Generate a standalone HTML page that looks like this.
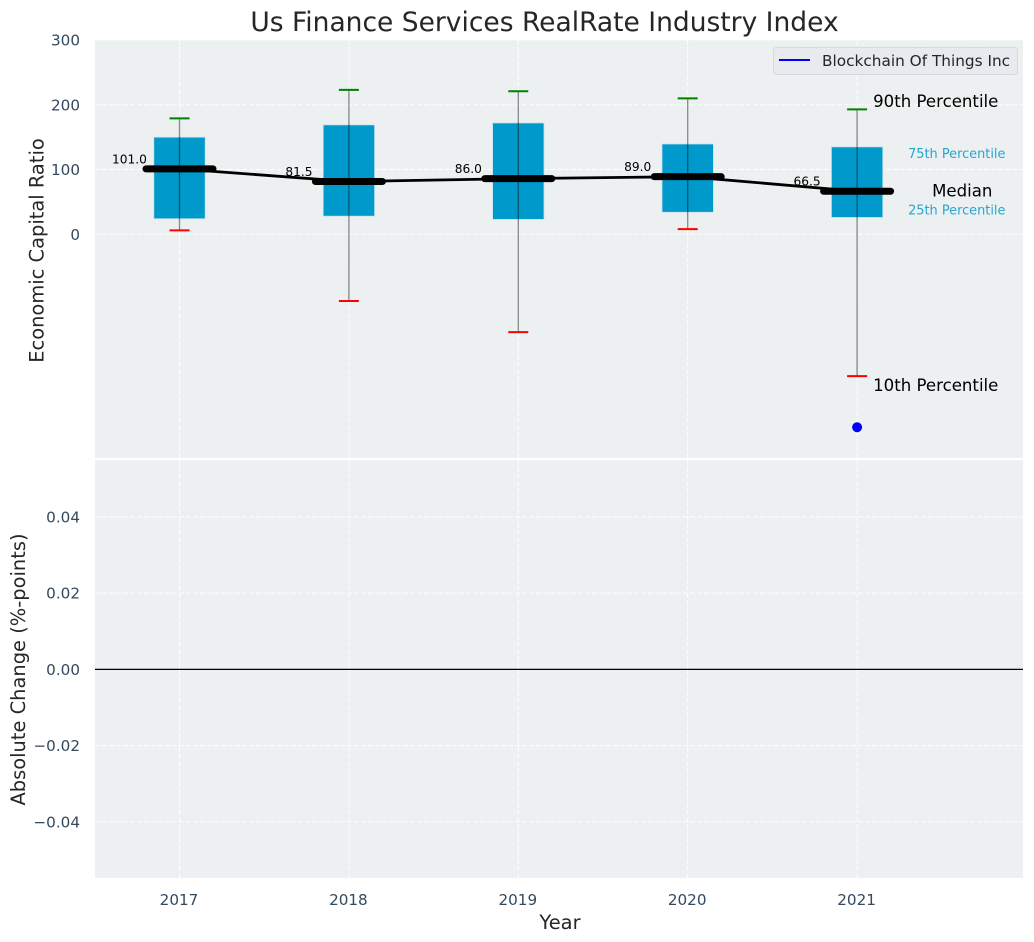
<!DOCTYPE html>
<html lang="en">
<head>
<meta charset="utf-8">
<title>Us Finance Services RealRate Industry Index</title>
<style>
html,body{margin:0;padding:0;background:#fff;}
svg{display:block;font-family:"DejaVu Sans","Liberation Sans",sans-serif;}
.tick{font-size:15.2px;fill:#34495e;}
.axl{font-size:19.45px;fill:#262626;}
.ann{font-size:16.6px;fill:#000;}
.pct{font-size:12.9px;fill:#0099cc;fill-opacity:.85;}
.val{font-size:12.2px;fill:#000;text-anchor:middle;}
</style>
</head>
<body>
<svg id="chart" width="1034" height="942" viewBox="0 0 1034 942" xmlns="http://www.w3.org/2000/svg">
  <rect x="0" y="0" width="1034" height="942" fill="#ffffff"/>
  <rect x="95" y="40" width="928" height="419" fill="#ecf0f1"/>
  <rect x="95" y="459" width="928" height="419" fill="#ecf0f1"/>
  <g id="grid"></g>
  <line x1="95" x2="1023" y1="459" y2="459" stroke="#ffffff" stroke-width="2"/>
  <g id="upper"></g>
  <g id="lower"></g>
  <g id="ticks"></g>

  <text x="544.5" y="31" text-anchor="middle" font-size="26.5px" fill="#262626">Us Finance Services RealRate Industry Index</text>
  <text class="axl" transform="translate(43.5,250.5) rotate(-90)" text-anchor="middle">Economic Capital Ratio</text>
  <text class="axl" transform="translate(25,669.5) rotate(-90)" text-anchor="middle">Absolute Change (%-points)</text>
  <text class="axl" x="560" y="929" text-anchor="middle">Year</text>

  <g>
    <rect x="773.5" y="47.5" width="244" height="27" rx="3" fill="#e8eaef" stroke="#d5d8dc" stroke-width="1"/>
    <line x1="779" x2="810" y1="60" y2="60" stroke="#0000ff" stroke-width="2"/>
    <text x="822" y="66" font-size="15.3px" fill="#262626">Blockchain Of Things Inc</text>
  </g>
  <script>
    // Chart data
    const years = [2017, 2018, 2019, 2020, 2021];
    const p90 = [179, 223, 221, 210, 193];
    const q3 = [150, 169, 172, 139.5, 135];
    const medians = [101.0, 81.5, 86.0, 89.0, 66.5];
    const q1 = [24, 28, 23, 34, 26];
    const p10 = [6, -103, -151, 8, -219];
    const companyYears = [2021];
    const companyValues = [-298];
    const upperTicks = [0, 100, 200, 300];
    const lowerTicks = [-0.04, -0.02, 0, 0.02, 0.04];
    const lowerBaseline = [0];

    // Axis functions
    const x = function (v) { return 179.5 + (v - 2017) * 169.4; };
    const yU = function (v) { return 234.3 - v * 0.6475; };
    const yL = function (v) { return 669.4 - v * 3812; };

    const NS = 'http://www.w3.org/2000/svg';
    const gridG = document.getElementById('grid');
    const upperG = document.getElementById('upper');
    const lowerG = document.getElementById('lower');
    const ticksG = document.getElementById('ticks');

    function make(parent, tag, attrs, txt) {
      const el = document.createElementNS(NS, tag);
      for (const k in attrs) { el.setAttribute(k, attrs[k]); }
      if (txt !== undefined) { el.textContent = txt; }
      parent.appendChild(el);
      return el;
    }
    const dash = { stroke: '#ffffff', 'stroke-width': 1, 'stroke-dasharray': '5 2', 'stroke-opacity': 0.9 };

    // Grid and x ticks
    years.forEach(function (yr) {
      const g1 = make(gridG, 'line', Object.assign({ x1: x(yr), x2: x(yr), y1: 40, y2: 878 }, dash));
      
      
      const t = make(ticksG, 'text', { class: 'tick', x: x(yr) - 0.5, y: 905, 'text-anchor': 'middle' }, String(yr));
      
      
    });
    upperTicks.forEach(function (v) {
      const g2 = make(gridG, 'line', Object.assign({ x1: 95, x2: 1023, y1: yU(v), y2: yU(v) }, dash));
      
      
      const t = make(ticksG, 'text', { class: 'tick', x: 80, y: yU(v) + 5.5, 'text-anchor': 'end' }, String(v));
      
      
    });
    lowerTicks.forEach(function (v) {
      const g3 = make(gridG, 'line', Object.assign({ x1: 95, x2: 1023, y1: yL(v), y2: yL(v) }, dash));
      
      
      const label = (v < 0 ? '\u2212' : '') + Math.abs(v).toFixed(2);
      const t = make(ticksG, 'text', { class: 'tick', x: 80, y: yL(v) + 5.5, 'text-anchor': 'end' }, label);
      
      
    });

    // Boxes
    years.forEach(function (yr, i) {
      const box = make(upperG, 'rect', {
        x: x(yr) - 25.7, width: 51.4, y: yU(q3[i]), height: yU(q1[i]) - yU(q3[i]),
        fill: '#0099cc', stroke: '#c5e3ee', 'stroke-width': 0.8
      });
      
      
    });

    // Whiskers and caps
    years.forEach(function (yr, i) {
      const w = make(upperG, 'line', {
        x1: x(yr), x2: x(yr), y1: yU(p90[i]), y2: yU(p10[i]),
        stroke: '#000000', 'stroke-opacity': 0.45, 'stroke-width': 1.3
      });
      
      
      const capHi = make(upperG, 'line', {
        x1: x(yr) - 10, x2: x(yr) + 10, y1: yU(p90[i]), y2: yU(p90[i]), stroke: '#008000', 'stroke-width': 2
      });
      
      
      const capLo = make(upperG, 'line', {
        x1: x(yr) - 10, x2: x(yr) + 10, y1: yU(p10[i]), y2: yU(p10[i]), stroke: '#ff0000', 'stroke-width': 2
      });
      
      
    });

    // Median trend line
    const trend = make(upperG, 'polyline', {
      points: years.map(function (yr, i) { return x(yr) + ',' + yU(medians[i]); }).join(' '),
      fill: 'none', stroke: '#000000', 'stroke-width': 2.8
    });
    
    

    // Median bars and labels
    years.forEach(function (yr, i) {
      const m = make(upperG, 'line', {
        x1: x(yr) - 33.5, x2: x(yr) + 33.5, y1: yU(medians[i]), y2: yU(medians[i]),
        stroke: '#000000', 'stroke-width': 7, 'stroke-linecap': 'round'
      });
      
      
      const l = make(upperG, 'text', { class: 'val', x: x(yr) - 50, y: yU(medians[i]) - 5.5 }, medians[i].toFixed(1));
      
      
    });

    // Company series
    const companyPts = companyYears.map(function (yr, i) { return x(yr) + ',' + yU(companyValues[i]); }).join(' ');
    const companyLine = make(upperG, 'polyline', { points: companyPts, fill: 'none', stroke: '#0000ff', 'stroke-width': 2 });
    
    
    companyYears.forEach(function (yr, i) {
      const pt = make(upperG, 'circle', { cx: x(yr), cy: yU(companyValues[i]), r: 5, fill: '#0000ff' });
      
      
    });

    // Percentile annotations for the last year
    const last = years.length - 1;
    const lx = x(years[last]);
    const a90 = make(upperG, 'text', { class: 'ann', x: lx + 16, y: yU(p90[last]) - 2.5 }, '90th Percentile');
    
    
    const a75 = make(upperG, 'text', { class: 'pct', x: lx + 51, y: yU(q3[last]) + 11 }, '75th Percentile');
    
    
    const aMed = make(upperG, 'text', { class: 'ann', x: lx + 75, y: yU(medians[last]) + 5.5 }, 'Median');
    
    
    const a25 = make(upperG, 'text', { class: 'pct', x: lx + 51, y: yU(q1[last]) - 3 }, '25th Percentile');
    
    
    const a10 = make(upperG, 'text', { class: 'ann', x: lx + 16, y: yU(p10[last]) + 15 }, '10th Percentile');
    
    

    // Lower panel zero baseline
    lowerBaseline.forEach(function (v) {
      const b = make(lowerG, 'line', { x1: 95, x2: 1023, y1: yL(v), y2: yL(v), stroke: '#000000', 'stroke-width': 1.2 });
      
      
    });
  </script>
</svg>
</body>
</html>
